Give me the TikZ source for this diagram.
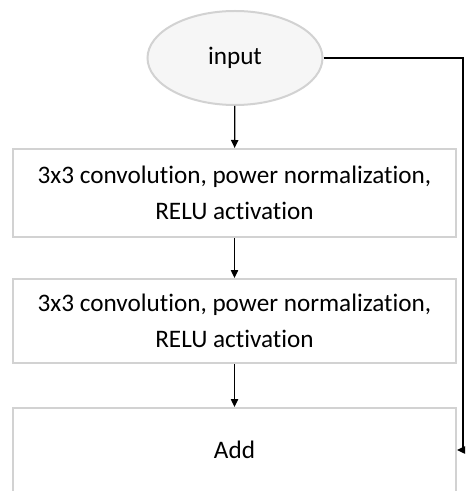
\documentclass[tikz,border=0pt]{standalone}
\usepackage{fontspec}
\setmainfont{Carlito}[Ligatures=NoCommon]
\usetikzlibrary{shapes.geometric,arrows.meta}
\definecolor{boxgray}{RGB}{210,210,210}
\definecolor{ellfill}{RGB}{246,246,246}
\tikzset{
  txt/.style={font=\fontsize{18.9}{27}\selectfont},
  blk/.style={txt, draw=boxgray, line width=1.5pt, fill=white, minimum width=443*0.75pt, align=center, inner sep=0pt},
  conn/.style={draw=black, line width=1pt, -{Triangle[length=6pt,width=5.5pt]}},
}
\begin{document}
\begin{tikzpicture}[x=0.75pt,y=-0.75pt]
\useasboundingbox (0,0) rectangle (466,491);
\node[ellipse, txt, draw=boxgray, line width=1.5pt, fill=ellfill, minimum width=175*0.75pt, minimum height=94*0.75pt] (in) at (235,58) {input};
\node[blk, minimum height=88*0.75pt] (b1) at (234.5,193) {3x3 convolution, power normalization,\\RELU activation};
\node[blk, minimum height=84*0.75pt] (b2) at (234.5,321) {3x3 convolution, power normalization,\\RELU activation};
\node[blk, minimum height=100*0.75pt, anchor=north] (b3) at (234.5,407) {};
\node[txt] (add) at (234.5,450) {Add};
\coordinate (c1) at (463,58);
\draw[conn] (in) -- (b1);
\draw[conn] (b1) -- (b2);
\draw[conn] (b2) -- (b3);
\draw[conn] (in.east) -- (c1) |- (b3.east |- add);
\end{tikzpicture}
\end{document}
